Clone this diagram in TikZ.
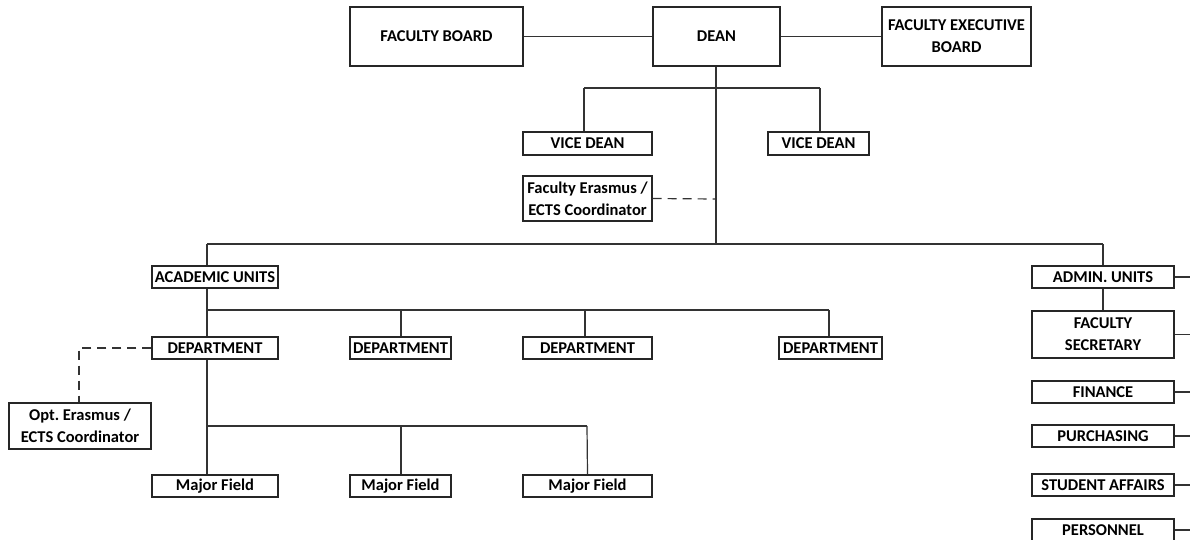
\documentclass[tikz,border=0pt]{standalone}
\usepackage{fontspec}
\setmainfont{Carlito}
\frenchspacing
\begin{document}
\begin{tikzpicture}[x=1pt,y=-1pt,
  box/.style={draw=black!85,line width=1.2pt,rectangle,inner sep=0pt,align=center,font=\bfseries\fontsize{16.5}{22}\selectfont,text=black},
  conn/.style={draw=black!80,line width=1.2pt},
  dconn/.style={draw=black!80,line width=1.2pt,dash pattern=on 9pt off 6pt}]
\useasboundingbox (0,0) rectangle (1190,540);
\clip (0,0) rectangle (1190,540);
% top row
\node[box,minimum width=173,minimum height=59] (fb) at (436.5,36.5) {FACULTY BOARD};
\node[box,minimum width=127,minimum height=59] (dean) at (716.5,36.5) {DEAN};
\node[box,minimum width=149,minimum height=59] (feb) at (956.5,36.5) {FACULTY EXECUTIVE\\BOARD};
\draw[conn] (fb.east) -- (dean.west);
\draw[conn] (dean.east) -- (feb.west);
% vice deans
\node[box,minimum width=129,minimum height=23] (vd1) at (587.5,143.5) {VICE DEAN};
\node[box,minimum width=101,minimum height=23] (vd2) at (818.5,143.5) {VICE DEAN};
\coordinate (jv) at (716,88);
\coordinate (jv1) at (584,88);
\coordinate (jv2) at (820,88);
\draw[conn] (jv1) -- (jv2);
\draw[conn] (jv1) -- (jv1 |- vd1.north);
\draw[conn] (jv2) -- (jv2 |- vd2.north);
% erasmus
\node[box,minimum width=129,minimum height=45] (fe) at (587.5,198.5) {Faculty Erasmus /\\ECTS Coordinator};
\coordinate (je) at (716,199);
\draw[dconn] (fe.east) -- (je);
% main horizontal
\coordinate (jm) at (716,244);
\coordinate (jl) at (207,244);
\coordinate (jr) at (1103,244);
\draw[conn] (dean.south -| jm) -- (jm);
\draw[conn] (jl) -- (jr);
% units
\node[box,minimum width=126,minimum height=22] (au) at (215,277) {ACADEMIC UNITS};
\node[box,minimum width=142,minimum height=22] (adm) at (1103,277) {ADMIN. UNITS};
\draw[conn] (jl) -- (jl |- au.north);
\draw[conn] (jr) -- (adm.north);
% departments
\node[box,minimum width=126,minimum height=22] (d1) at (215,348) {DEPARTMENT};
\node[box,minimum width=101,minimum height=22] (d2) at (400.5,348) {DEPARTMENT};
\node[box,minimum width=129,minimum height=22] (d3) at (587.5,348) {DEPARTMENT};
\node[box,minimum width=103,minimum height=22] (d4) at (830.5,348) {DEPARTMENT};
\coordinate (ja) at (207,310);
\coordinate (ja2) at (401,310);
\coordinate (ja3) at (585,310);
\coordinate (ja4) at (829,310);
\draw[conn] (au.south -| ja) -- (d1.north -| ja);
\draw[conn] (ja) -- (ja4);
\draw[conn] (ja2) -- (ja2 |- d2.north);
\draw[conn] (ja3) -- (ja3 |- d3.north);
\draw[conn] (ja4) -- (ja4 |- d4.north);
% optional coordinator
\node[box,minimum width=142,minimum height=46] (opt) at (80,426) {Opt. Erasmus /\\ECTS Coordinator};
\coordinate (jo) at (79,348);
\draw[dconn] (d1.west) -- (jo) -- (jo |- opt.north);
% major fields
\node[box,minimum width=126,minimum height=22] (mf1) at (215,486) {Major Field};
\node[box,minimum width=101,minimum height=22] (mf2) at (400.5,486) {Major Field};
\node[box,minimum width=129,minimum height=22] (mf3) at (587.5,486) {Major Field};
\coordinate (jf) at (207,426);
\coordinate (jf2) at (401,426);
\coordinate (jf3) at (587,426);
\draw[conn] (d1.south -| jf) -- (mf1.north -| jf);
\draw[conn] (jf) -- (jf3);
\draw[conn] (jf2) -- (jf2 |- mf2.north);
\draw[conn] (jf3) -- (mf3.north);
% admin units
\node[box,minimum width=142,minimum height=47] (fs) at (1103,334.5) {FACULTY\\SECRETARY};
\node[box,minimum width=142,minimum height=22] (fin) at (1103,392) {FINANCE};
\node[box,minimum width=142,minimum height=22] (pur) at (1103,436) {PURCHASING};
\node[box,minimum width=142,minimum height=22] (sa) at (1103,485) {STUDENT AFFAIRS};
\node[box,minimum width=142,minimum height=22] (per) at (1103,530) {PERSONNEL};
\draw[conn] (adm.south) -- (fs.north);
\foreach \n in {adm,fs,fin,pur,sa,per}{
  \coordinate (e\n) at (1191,0 |- \n.east);
  \draw[conn] (\n.east) -- (e\n);
}
\end{tikzpicture}
\end{document}
